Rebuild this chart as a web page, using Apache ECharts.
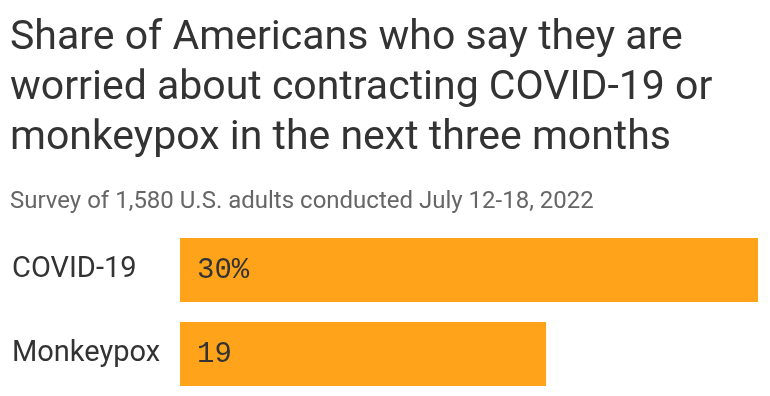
<!DOCTYPE html>
<html>
<head>
<meta charset="utf-8">
<script src="https://cdn.jsdelivr.net/npm/echarts@6/dist/echarts.min.js"></script>
<style>
  html, body { margin: 0; padding: 0; background: #fff; }
  #chart { width: 770px; height: 396px; }
</style>
</head>
<body>
<div id="chart"></div>
<script>
// data
const categories = ['COVID-19', 'Monkeypox'];
const shares = [30, 19];
const titleText = 'Share of Americans who say they are\nworried about contracting COVID-19 or\nmonkeypox in the next three months';
const subtitleText = 'Survey of 1,580 U.S. adults conducted July 12-18, 2022';

const chart = echarts.init(document.getElementById('chart'));

chart.setOption({
    animation: false,
    title: [
        {
            text: titleText,
            left: 5, top: 9,
            textStyle: { fontFamily: 'Roboto', fontSize: 41, fontWeight: 'normal', color: '#333', lineHeight: 50 }
        },
        {
            text: subtitleText,
            left: 5, top: 185,
            textStyle: { fontFamily: 'Roboto', fontSize: 24, fontWeight: 'normal', color: '#666' }
        }
    ],
    grid: { left: 180, right: 12, top: 228, bottom: 0 },
    xAxis: {
        type: 'value', min: 0, max: 30,
        show: false
    },
    yAxis: {
        type: 'category',
        data: categories,
        inverse: true,
        axisLine: { show: false },
        axisTick: { show: false },
        axisLabel: {
            align: 'left', margin: 168,
            fontFamily: 'Roboto', fontSize: 29, color: '#333'
        }
    },
    series: [{
        type: 'bar',
        data: shares,
        barWidth: 64,
        itemStyle: { color: '#FFA31A' },
        label: {
            show: true,
            position: 'insideLeft',
            distance: 17,
            fontFamily: 'Liberation Mono', fontSize: 29, color: '#333',
            formatter: (p) => p.dataIndex === 0 ? p.value + '%' : String(p.value)
        }
    }]
});
</script>
</body>
</html>
